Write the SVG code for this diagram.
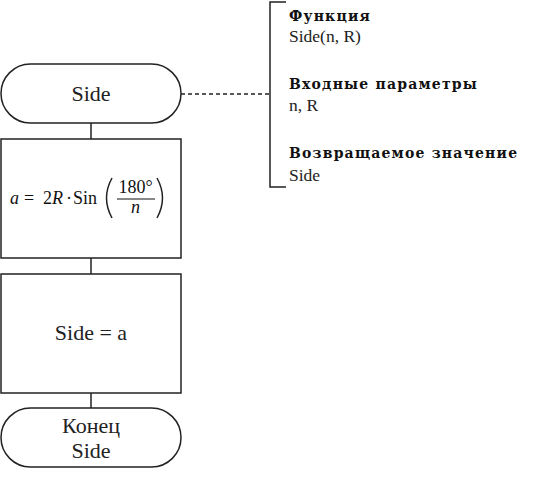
<svg xmlns="http://www.w3.org/2000/svg" width="558" height="486" viewBox="0 0 558 486">
<style>
.s{fill:#fff;stroke:#222;stroke-width:1.5}
.l{stroke:#222;stroke-width:1.5;fill:none}
.t{font-family:'Liberation Serif','Times New Roman','DejaVu Serif',serif;font-size:22px;fill:#222;text-anchor:middle}
.m{font-family:'Liberation Serif','Times New Roman','DejaVu Serif',serif;font-size:18px;fill:#111}
.b{font-family:'DejaVu Serif',serif;font-size:14px;font-weight:bold;fill:#111;letter-spacing:1.2px}
.r{font-family:'Liberation Serif','Times New Roman','DejaVu Serif',serif;font-size:17.5px;fill:#222}
</style>
<rect width="558" height="486" fill="#fff"/>
<g id="connectors">
<line class="l" x1="91" y1="123" x2="91" y2="139"/>
<line class="l" x1="91" y1="258" x2="91" y2="274"/>
<line class="l" x1="91" y1="393" x2="91" y2="408"/>
<line class="l" x1="181" y1="94" x2="270" y2="94" stroke-dasharray="4,3"/>
</g>
<g id="start">
<rect class="s" x="1" y="64" width="180" height="59" rx="29.5"/>
<text class="t" x="91" y="101">Side</text>
</g>
<g id="calc">
<rect class="s" x="1" y="139" width="180" height="119"/>
<text class="m" x="10" y="204" font-style="italic">a</text>
<text class="m" x="24" y="204">=</text>
<text class="m" x="43" y="204">2<tspan font-style="italic">R</tspan></text>
<text class="m" x="66" y="204">·</text>
<text class="m" x="73" y="204">Sin</text>
<path d="M112 178 Q101 198 112 218" class="l" stroke-width="1.2"/>
<text class="m" x="135.5" y="193" text-anchor="middle">180°</text>
<line x1="117" y1="199" x2="155" y2="199" stroke="#111" stroke-width="1"/>
<text class="m" x="135.5" y="213" text-anchor="middle" font-style="italic">n</text>
<path d="M157 178 Q168 198 157 218" class="l" stroke-width="1.2"/>
</g>
<g id="assign">
<rect class="s" x="1" y="274" width="180" height="119"/>
<text class="t" x="91" y="340">Side = a</text>
</g>
<g id="end">
<rect class="s" x="1" y="408" width="180" height="59" rx="29.5"/>
<text class="t" x="91" y="433">Конец</text>
<text class="t" x="91" y="458">Side</text>
</g>
<g id="comment">
<path class="l" d="M286 2 H270 V187 H286"/>
<text class="b" x="289" y="21">Функция</text>
<text class="r" x="289" y="42">Side(n, R)</text>
<text class="b" x="289" y="89">Входные параметры</text>
<text class="r" x="289" y="111">n, R</text>
<text class="b" x="289" y="158">Возвращаемое значение</text>
<text class="r" x="289" y="181">Side</text>
</g>
</svg>
